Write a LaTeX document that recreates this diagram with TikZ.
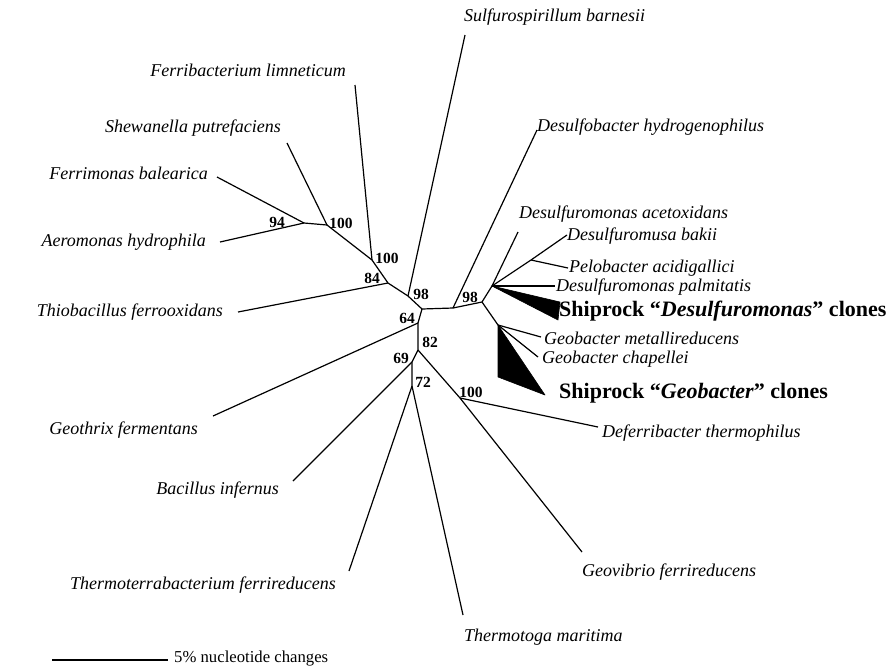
\documentclass[tikz,border=0pt]{standalone}
\usepackage{fontspec}
\setmainfont{Liberation Serif}
\usetikzlibrary{positioning}
\tikzset{
    taxon/.style={font=\fontsize{18}{20}\selectfont\itshape, inner sep=1pt},
    clones/.style={font=\fontsize{22}{24}\selectfont\bfseries, inner sep=1pt},
    boot/.style={font=\fontsize{15.5}{16}\selectfont\bfseries, inner sep=0pt},
    branch/.style={line width=1.2pt},
    clade/.style={fill=black, draw=black, line width=0.6pt}
}

\begin{document}
\begin{tikzpicture}[x=1pt, y=-1pt, line join=round]
    \useasboundingbox (0,0) rectangle (889,665);
    % internal nodes of the tree
    \coordinate (a) at (422,309);
    \coordinate (s) at (408,296);
    \coordinate (t) at (388,283);
    \coordinate (f) at (372,260);
    \coordinate (g) at (327,225);
    \coordinate (h) at (304,223);
    \coordinate (k) at (418,323);
    \coordinate (m) at (418,350);
    \coordinate (n) at (412,362);
    \coordinate (p) at (412,386);
    \coordinate (d) at (460,398);
    \coordinate (r) at (453,308);
    \coordinate (q) at (482,302);
    \coordinate (u) at (492,286);
    \coordinate (v) at (531,260);
    \coordinate (w) at (498,325);
    % leaves
    \coordinate (sulfuro) at (465,35);
    \coordinate (ferribac) at (355,85);
    \coordinate (shewan) at (287,143);
    \coordinate (ferrimon) at (217,177);
    \coordinate (aeromon) at (220,242);
    \coordinate (thiobac) at (238,312);
    \coordinate (geothrix) at (213,416);
    \coordinate (bacillus) at (293,481);
    \coordinate (thermoterra) at (349,571);
    \coordinate (thermotoga) at (463,615);
    \coordinate (geovibrio) at (582,552);
    \coordinate (deferri) at (598,427);
    \coordinate (dsfbacter) at (537,130);
    \coordinate (dsfaceto) at (518,232);
    \coordinate (dsfmusa) at (567,235);
    \coordinate (pelobac) at (568,268);
    \coordinate (dsfpalm) at (555,286);
    \coordinate (geomet) at (541,337);
    \coordinate (geochap) at (538,357);
    \coordinate (barl) at (52,660);
    \coordinate (barr) at (168,660);

    % labels
    \node[taxon, anchor=west] (lsulfuro) at (463,17) {Sulfurospirillum barnesii};
    \node[taxon, anchor=east] (lferribac) at (347,70) {Ferribacterium limneticum};
    \node[taxon, anchor=east] (lshewan) at (282,128) {Shewanella putrefaciens};
    \node[taxon, anchor=east] (lferrimon) at (209,173) {Ferrimonas balearica};
    \node[taxon, anchor=east] (laeromon) at (207,242) {Aeromonas hydrophila};
    \node[taxon, anchor=east] (lthiobac) at (224,312) {Thiobacillus ferrooxidans};
    \node[taxon, anchor=east] (lgeothrix) at (199,430) {Geothrix fermentans};
    \node[taxon, anchor=east] (lbacillus) at (280,490) {Bacillus infernus};
    \node[taxon, anchor=east] (lthermoterra) at (337,585) {Thermoterrabacterium ferrireducens};
    \node[taxon, anchor=west] (lthermotoga) at (463,637) {Thermotoga maritima};
    \node[taxon, anchor=west] (lgeovibrio) at (581,572) {Geovibrio ferrireducens};
    \node[taxon, anchor=west] (ldeferri) at (601,433) {Deferribacter thermophilus};
    \node[clones, anchor=west] (lgeoclones) at (558,393) {Shiprock ``\textit{Geobacter}'' clones};
    \node[taxon, anchor=west] (lgeochap) at (541,359) {Geobacter chapellei};
    \node[taxon, anchor=west] (lgeomet) at (543,338) {Geobacter metallireducens};
    \node[clones, anchor=west] (ldsfclones) at (558,311) {Shiprock ``\textit{Desulfuromonas}'' clones};
    \node[taxon, anchor=west] (ldsfpalm) at (555,287) {Desulfuromonas palmitatis};
    \node[taxon, anchor=west] (lpelobac) at (568,268) {Pelobacter acidigallici};
    \node[taxon, anchor=west] (ldsfmusa) at (566,236) {Desulfuromusa bakii};
    \node[taxon, anchor=west] (ldsfaceto) at (518,214) {Desulfuromonas acetoxidans};
    \node[taxon, anchor=west] (ldsfbacter) at (536,127) {Desulfobacter hydrogenophilus};
    \node[anchor=west, font=\fontsize{16.7}{18}\selectfont, inner sep=1pt] (lbar) at (173,658) {5\% nucleotide changes};

    % bootstrap values
    \node[boot] (b94) at (277,222) {94};
    \node[boot] (b100g) at (341,223) {100};
    \node[boot] (b100f) at (387,258) {100};
    \node[boot] (b84) at (372,278) {84};
    \node[boot] (b98s) at (421,294) {98};
    \node[boot] (b64) at (407,318) {64};
    \node[boot] (b82) at (430,342) {82};
    \node[boot] (b69) at (401,358) {69};
    \node[boot] (b72) at (423,382) {72};
    \node[boot] (b100d) at (471,392) {100};
    \node[boot] (b98r) at (470,297) {98};

    % collapsed clades
    \fill[clade] (u) -- (560,302) -- (558,320) -- cycle;
    \fill[clade] (w) -- (498,377) -- (545,395) -- cycle;

    % branches
    \draw[branch]
    (a) -- (s) -- (t) -- (f) -- (g) -- (h)
    (s) edge (sulfuro)
    (t) edge (thiobac)
    (f) edge (ferribac)
    (g) edge (shewan)
    (h) edge (ferrimon)
    (h) edge (aeromon)
    (a) -- (k) -- (m) -- (n) -- (p)
    (k) edge (geothrix)
    (n) edge (bacillus)
    (p) edge (thermoterra)
    (p) edge (thermotoga)
    (m) -- (d)
    (d) edge (geovibrio)
    (d) edge (deferri)
    (a) -- (r) -- (q) -- (u)
    (r) edge (dsfbacter)
    (q) edge (w)
    (u) edge (dsfaceto)
    (u) -- (v) -- (dsfmusa)
    (v) edge (pelobac)
    (u) edge (dsfpalm)
    (w) edge (geomet)
    (w) edge (geochap)
    (barl) edge (barr);
\end{tikzpicture}
\end{document}
